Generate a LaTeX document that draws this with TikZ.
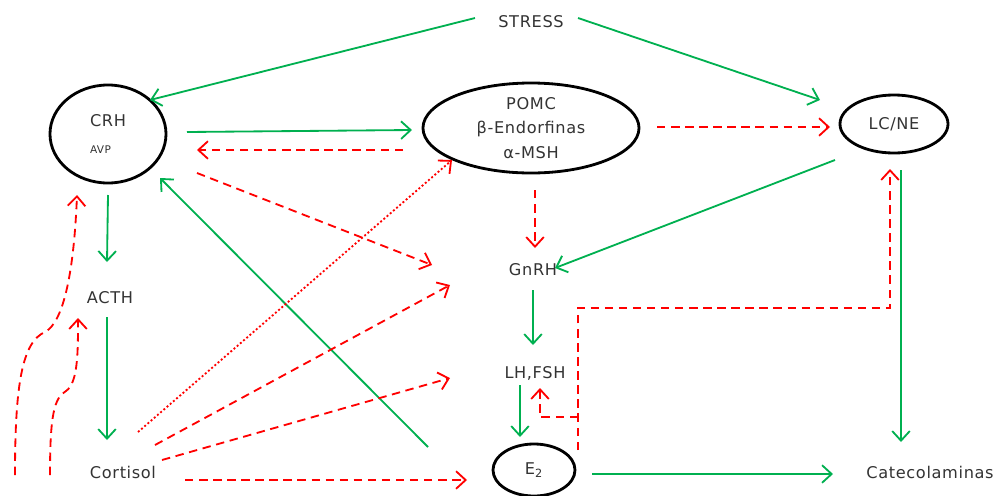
\documentclass[tikz,border=0pt]{standalone}
\usepackage{fontspec}
\setmainfont{DejaVu Sans}[LetterSpace=4]
\usepackage{tikz}
\usetikzlibrary{positioning,calc,shapes.geometric,arrows.meta}
\definecolor{stimgreen}{RGB}{0,176,80}
\definecolor{inhibred}{RGB}{255,0,0}

\begin{document}
\begin{tikzpicture}[x=0.025cm,y=-0.025cm,
    font=\fontsize{11.5}{13}\selectfont, text=black!80,
    hub/.style={draw=black, text=black!80, ellipse, line width=2pt, inner sep=0pt},
    stim/.style={draw=stimgreen, line width=1.3pt, -{Straight Barb[length=2.4mm,width=4.4mm]}},
    inhib/.style={draw=inhibred, line width=1.3pt, dash pattern=on 6pt off 4pt, -{Straight Barb[length=2.4mm,width=4.4mm]}},
    inhibdot/.style={inhib, dash pattern=on 1.4pt off 1.6pt}]
\useasboundingbox (0,0) rectangle (1007,495);

% hormones
\node (stress) at (531,22) {STRESS};
\node (crh) [hub, minimum width=2.9cm, minimum height=2.45cm, align=left] at (108,134)
    {CRH\\[6pt]{\fontsize{7.5}{8}\selectfont AVP}\hspace*{10pt}};
\node (pomc) [hub, minimum width=5.4cm, minimum height=2.25cm, align=center,
    font=\fontsize{11.5}{17.4}\selectfont] at (531,128) {POMC\\β-Endorfinas\\α-MSH};
\node (lcne) [hub, minimum width=2.7cm, minimum height=1.45cm] at (894,124) {LC/NE};
\node (gnrh) at (533,270) {GnRH};
\node (acth) at (110,298) {ACTH};
\node (lhfsh) at (535,373) {LH,FSH};
\node (cortisol) at (123,472) {Cortisol};
\node (e2) [hub, minimum width=2.05cm, minimum height=1.3cm] at (534,470) {E\textsubscript{2}};
\node (cateco) at (930,472) {Catecolaminas};

\coordinate (fb1) at (15,475);
\coordinate (fb2) at (50,475);

% stimulation
\draw[stim] ($(stress)+(-56,-4)$) -- ($(crh)+(42,-34)$);
\draw[stim] ($(stress)+(47,-4)$) -- ($(lcne)+(-74,-24)$);
\draw[stim] ($(crh)+(79,-2)$) -- ($(pomc)+(-119,2)$);
\draw[stim] ($(crh)+(0,61)$) -- ($(acth)+(-3,-36)$);
\draw[stim] ($(acth)+(-3,19)$) -- ($(cortisol)+(-16,-32)$);
\draw[stim] ($(e2)+(-106,-23)$) -- ($(crh)+(52,44)$);
\draw[stim] ($(lcne)+(-59,36)$) -- ($(gnrh)+(22,-2)$);
\draw[stim] ($(gnrh)+(0,20)$) -- ($(lhfsh)+(-2,-28)$);
\draw[stim] ($(lhfsh)+(-15,12)$) -- ($(e2)+(-14,-33)$);
\draw[stim] ($(e2)+(58,4)$) -- ($(cateco)+(-97,2)$);
\draw[stim] ($(lcne)+(7,46)$) -- ($(cateco)+(-29,-30)$);

% inhibition
\draw[inhib] ($(pomc)+(-128,22)$) -- ($(crh)+(89,16)$);
\draw[inhib] ($(pomc)+(126,-1)$) -- ($(lcne)+(-64,3)$);
\draw[inhib] ($(pomc)+(4,62)$) -- ($(gnrh)+(2,-22)$);
\draw[inhib] ($(crh)+(89,39)$) -- ($(gnrh)+(-101,-5)$);
\draw[inhib] ($(cortisol)+(32,-27)$) -- ($(gnrh)+(-83,15)$);
\draw[inhib] ($(cortisol)+(39,-12)$) -- ($(lhfsh)+(-85,5)$);
\draw[inhib] ($(cortisol)+(62,8)$) -- ($(e2)+(-67,10)$);
\draw[inhibdot] ($(cortisol)+(15,-40)$) -- ($(pomc)+(-79,32)$);
\draw[inhib] (fb1) .. controls (15,385) and (22,342) .. (45,332)
    .. controls (64,322) and (74,270) .. ($(crh)+(-31,61)$);
\draw[inhib] (fb2) .. controls (50,415) and (54,398) .. (66,391)
    .. controls (78,383) and (78,352) .. ($(acth)+(-32,20)$);
\draw[inhib] ($(e2)+(44,-20)$) |- ($(lcne)+(-4,184)$) -- ($(lcne)+(-4,45)$);
\draw[inhib] ($(e2)+(44,-53)$) -| ($(lhfsh)+(5,15)$);
\end{tikzpicture}
\end{document}
